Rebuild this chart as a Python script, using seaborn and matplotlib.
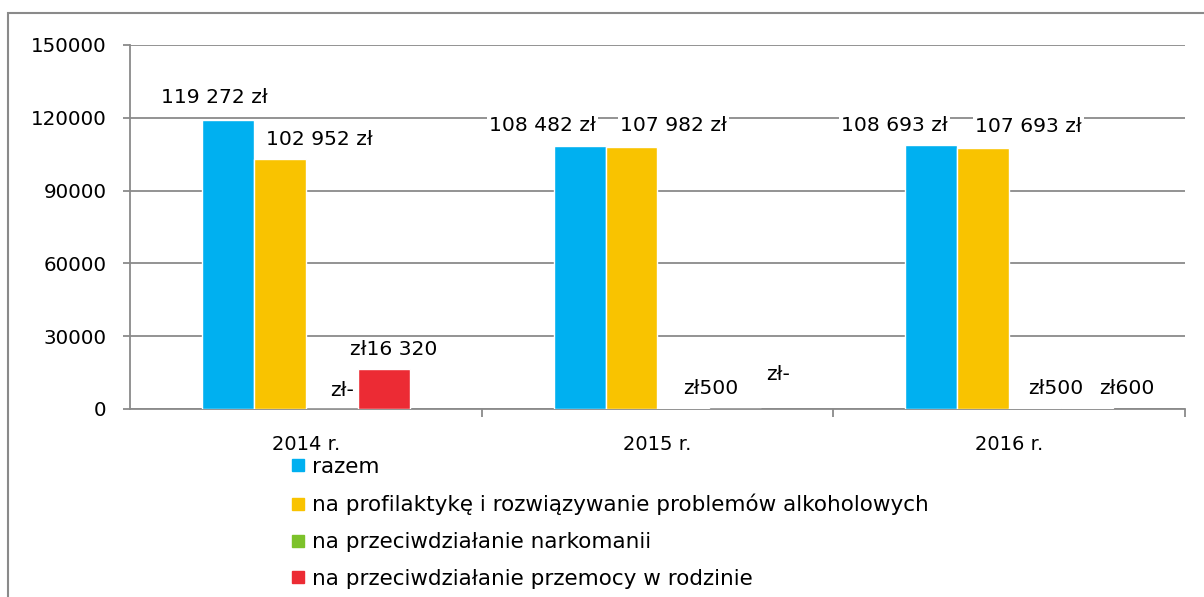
import pandas as pd
import seaborn as sns
import matplotlib.pyplot as plt
from matplotlib.lines import Line2D
from matplotlib.patches import Rectangle

# Data
years = ['2014 r.', '2015 r.', '2016 r.']
series = ['razem',
          'na profilaktykę i rozwiązywanie problemów alkoholowych',
          'na przeciwdziałanie narkomanii',
          'na przeciwdziałanie przemocy w rodzinie']
razem = [119272, 108482, 108693]
alkohol = [102952, 107982, 107693]
narkomania = [0, 500, 500]
przemoc = [16320, 0, 600]
colors = ['#00B0F0', '#F9C300', '#7CC22A', '#EC2B34']

values = [razem, alkohol, narkomania, przemoc]
df = pd.DataFrame({
    'rok': [y for s in values for y in years],
    'seria': [name for name, s in zip(series, values) for _ in s],
    'kwota': [v for s in values for v in s],
})

# label offsets in pixels (dx, dy) from bar top centre
label_offsets = [
    [(-14, 22), (-37, 20), (-37, 20)],
    [(39, 20), (42, 21), (45, 21)],
    [(10, 18), (27, 19), (21, 19)],
    [(10, 20), (43, 35), (40, 19)],
]


def fmt_total(v):
    return f'{v:,.0f}'.replace(',', ' ') + ' zł'


def fmt_small(v):
    return 'zł-' if v == 0 else 'zł' + f'{v:,.0f}'.replace(',', ' ')


sns.set_style('white')
plt.rcParams['font.family'] = ['DejaVu Sans']
plt.rcParams['text.color'] = 'black'
fs = 14.3

fig = plt.figure(figsize=(12.04, 5.97), dpi=100)
ax = fig.add_axes([130 / 1204, 1 - 409 / 597, (1185 - 130) / 1204, (409 - 45) / 597])

sns.barplot(data=df, x='rok', y='kwota', hue='seria', palette=colors,
            saturation=1, width=0.59, gap=0, edgecolor='white', linewidth=1,
            legend=False, ax=ax, zorder=3)

ax.set_ylim(0, 150000)
ax.set_xlim(-0.5, 2.5)
ax.set_yticks(range(0, 150001, 30000))
ax.yaxis.grid(True, color='#8a8a8a', linewidth=1.3, zorder=0)
ax.set_axisbelow(True)
ax.set_xlabel('')
ax.set_ylabel('')

for side in ['top', 'right']:
    ax.spines[side].set_visible(False)
for side in ['left', 'bottom']:
    ax.spines[side].set_color('#8a8a8a')
    ax.spines[side].set_linewidth(1.3)

ax.tick_params(axis='y', left=True, length=5, width=1.3, color='#8a8a8a',
               pad=12, labelsize=fs, labelcolor='black')
ax.tick_params(axis='x', which='major', bottom=False, pad=15, labelsize=14,
               labelcolor='black')
ax.set_xticks([0.5, 1.5, 2.5], minor=True)
ax.tick_params(axis='x', which='minor', bottom=True, length=6, width=1.3,
               color='#8a8a8a')

for i, cont in enumerate(ax.containers):
    for j, bar in enumerate(cont):
        v = values[i][j]
        txt = fmt_total(v) if i < 2 else fmt_small(v)
        dx, dy = label_offsets[i][j]
        ax.annotate(txt, (bar.get_x() + bar.get_width() / 2, bar.get_height()),
                    xytext=(dx, dy), textcoords='offset pixels',
                    ha='center', va='center', fontsize=14.6, zorder=5,
                    bbox=dict(facecolor='white', edgecolor='none', pad=1.5))

handles = [Line2D([], [], marker='s', linestyle='', markersize=8,
                  markerfacecolor=c, markeredgecolor=c) for c in colors]
fig.legend(handles, series, loc='upper left',
           bbox_to_anchor=(289 / 1204, 1 - 457 / 597), frameon=False,
           fontsize=15.5, handlelength=0.8, handletextpad=0.28,
           labelspacing=0.78, borderaxespad=0, borderpad=0)

fig.patches.append(Rectangle((7.5 / 1204, -0.1), 1.2, 1.1 - 13 / 597,
                             transform=fig.transFigure, fill=False,
                             edgecolor='#8a8a8a', linewidth=1.5))

fig.savefig('out.png', dpi=100)
